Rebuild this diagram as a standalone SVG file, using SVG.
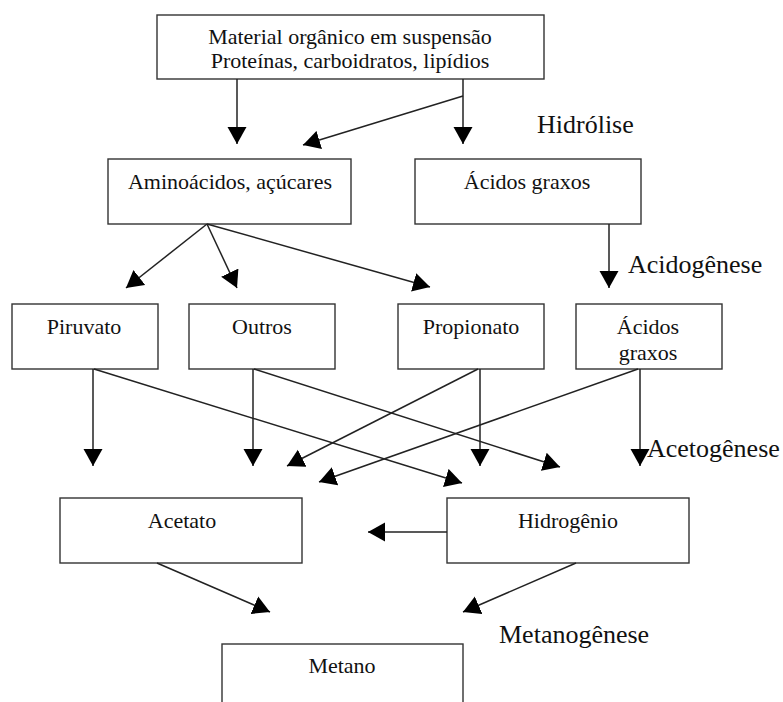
<svg xmlns="http://www.w3.org/2000/svg" width="783" height="702" viewBox="0 0 783 702">
<style>
.box{fill:#fff;stroke:#333;stroke-width:1.4}
.t{font-family:"Liberation Serif","Times New Roman",serif;font-size:22px;fill:#111;text-anchor:middle}
.lbl{font-family:"Liberation Serif","Times New Roman",serif;font-size:26px;fill:#111}
.c line{stroke:#222;stroke-width:1.5;marker-end:url(#ah)}
</style>
<defs>
<marker id="ah" markerUnits="userSpaceOnUse" markerWidth="18" markerHeight="20" refX="17" refY="9.5" orient="auto" viewBox="0 0 18 19">
<path d="M0,0 L17,9.5 L0,19 z" fill="#000"/>
</marker>
</defs>
<rect width="783" height="702" fill="#fff"/>
<g id="n-material">
<rect class="box" x="157" y="15" width="387" height="64"/>
<text class="t" x="350" y="44">Material orgânico em suspensão</text>
<text class="t" x="350" y="68">Proteínas, carboidratos, lipídios</text>
</g>
<g id="n-aminoacidos">
<rect class="box" x="108" y="159" width="243" height="65"/>
<text class="t" x="230" y="189">Aminoácidos, açúcares</text>
</g>
<g id="n-acidosgraxos1">
<rect class="box" x="415" y="159" width="226" height="65"/>
<text class="t" x="527" y="189">Ácidos graxos</text>
</g>
<g id="n-piruvato">
<rect class="box" x="12" y="304" width="146" height="65"/>
<text class="t" x="84" y="334">Piruvato</text>
</g>
<g id="n-outros">
<rect class="box" x="189" y="304" width="146" height="65"/>
<text class="t" x="262" y="334">Outros</text>
</g>
<g id="n-propionato">
<rect class="box" x="398" y="304" width="146" height="65"/>
<text class="t" x="471" y="334">Propionato</text>
</g>
<g id="n-acidosgraxos2">
<rect class="box" x="576" y="304" width="146" height="65"/>
<text class="t" x="648" y="334">Ácidos</text>
<text class="t" x="648" y="360">graxos</text>
</g>
<g id="n-acetato">
<rect class="box" x="60" y="498" width="242" height="65"/>
<text class="t" x="182" y="528">Acetato</text>
</g>
<g id="n-hidrogenio">
<rect class="box" x="447" y="498" width="242" height="65"/>
<text class="t" x="568" y="528">Hidrogênio</text>
</g>
<g id="n-metano">
<rect class="box" x="222" y="644" width="241" height="80"/>
<text class="t" x="342" y="673">Metano</text>
</g>
<g id="labels">
<text class="lbl" x="537" y="133">Hidrólise</text>
<text class="lbl" x="628" y="273">Acidogênese</text>
<text class="lbl" x="647" y="457">Acetogênese</text>
<text class="lbl" x="499" y="643">Metanogênese</text>
</g>
<g id="connectors" class="c">
<line x1="237" y1="79" x2="237" y2="144"/>
<line x1="463" y1="79" x2="463" y2="144"/>
<line x1="463" y1="96" x2="303" y2="145"/>
<line x1="207" y1="224" x2="126" y2="288"/>
<line x1="207" y1="224" x2="237" y2="288"/>
<line x1="207" y1="224" x2="430" y2="287"/>
<line x1="609" y1="224" x2="609" y2="288"/>
<line x1="93" y1="369" x2="93" y2="466"/>
<line x1="94" y1="369" x2="462" y2="483"/>
<line x1="253" y1="369" x2="253" y2="466"/>
<line x1="254" y1="369" x2="560" y2="467"/>
<line x1="480" y1="369" x2="480" y2="466"/>
<line x1="478" y1="369" x2="287" y2="466"/>
<line x1="640" y1="369" x2="640" y2="466"/>
<line x1="638" y1="369" x2="319" y2="482"/>
<line x1="447" y1="532" x2="368" y2="532"/>
<line x1="157" y1="563" x2="270" y2="612"/>
<line x1="576" y1="563" x2="463" y2="612"/>
</g>
</svg>
